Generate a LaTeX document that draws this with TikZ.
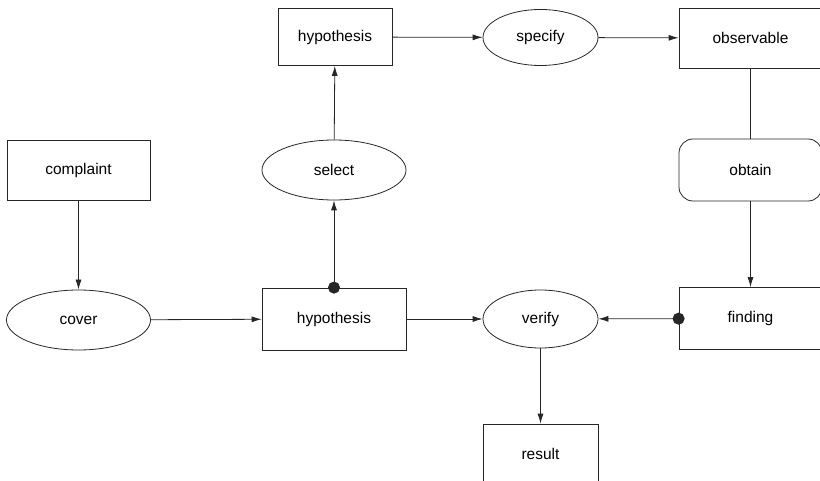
\documentclass[tikz,border=0pt]{standalone}
\usepackage{fontspec}
\setmainfont{Liberation Sans}
\usetikzlibrary{shapes.geometric,arrows.meta}
\begin{document}
\begin{tikzpicture}[x=1pt,y=-1pt,
  every node/.style={font=\fontsize{15.5}{17}\selectfont, inner sep=0pt, draw=black!85, line width=0.8pt},
  box/.style={rectangle, minimum width=143pt, minimum height=60pt},
  oval/.style={ellipse, minimum width=#1},
  oval/.default=144pt,
  rbox/.style={rectangle, rounded corners=14pt, minimum width=143pt, minimum height=62pt},
  conn/.style={line width=0.8pt, draw=black!85, -{Latex[length=10pt,width=6pt]}},
  dotconn/.style={line width=0.8pt, draw=black!85, shorten <=-6pt, {Circle[length=12pt]}-{Latex[length=10pt,width=6pt]}},
  plain/.style={line width=0.8pt, draw=black!85}
]
\clip (0,0) rectangle (820,481);
\node[box] (complaint) at (78.5,170) {complaint};
\node[oval, minimum height=60pt] (cover) at (78.5,320) {cover};
\node[box, minimum width=144pt, minimum height=62pt] (hyp2) at (334,319) {hypothesis};
\node[oval, minimum height=60pt] (select) at (334,170) {select};
\node[box, minimum width=114pt, minimum height=57pt] (hyp1) at (335,37) {hypothesis};
\node[oval=115pt, minimum height=56pt] (specify) at (540.5,37.5) {specify};
\node[box] (observable) at (750.5,38) {observable};
\node[rbox] (obtain) at (750.5,170) {obtain};
\node[box, minimum height=62pt] (finding) at (750.5,318.5) {finding};
\node[oval=115pt, minimum height=58pt] (verify) at (540.5,319) {verify};
\node[box, minimum width=115pt] (result) at (540.5,454) {result};

\draw[conn] (complaint) -- (cover);
\draw[conn] (cover) -- (hyp2);
\draw[dotconn] (hyp2) -- (select);
\draw[conn] (select) -- (hyp1);
\draw[conn] (hyp1) -- (specify);
\draw[conn] (specify) -- (observable);
\draw[plain] (observable) -- (obtain);
\draw[conn] (obtain) -- (finding);
\draw[conn] (hyp2) -- (verify);
\draw[dotconn] (finding) -- (verify);
\draw[conn] (verify) -- (result);
\end{tikzpicture}
\end{document}
